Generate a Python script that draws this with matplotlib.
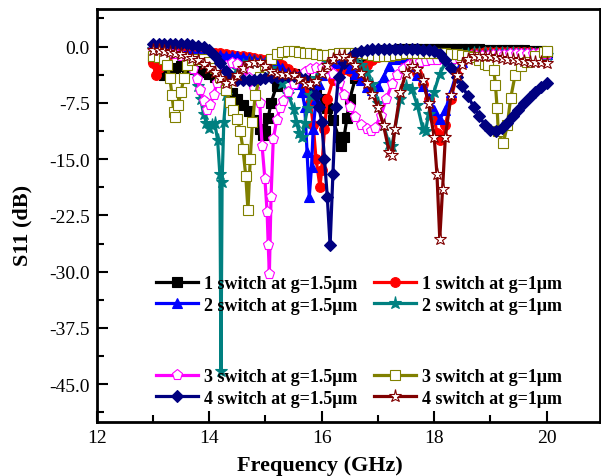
import matplotlib
matplotlib.use("Agg")
import matplotlib.pyplot as plt
from matplotlib.ticker import MultipleLocator, FormatStrFormatter

plt.rcParams['font.family'] = ['Liberation Serif', 'DejaVu Serif']
plt.rcParams['axes.unicode_minus'] = False

# ---- data (frequency GHz, S11 dB) ----
sw1_g15 = [(13.0,-1.5),(13.1,-3.0),(13.2,-3.8),(13.3,-3.4),(13.4,-2.8),(13.5,-2.6),(13.6,-2.8),(13.7,-3.0),
           (13.8,-3.2),(13.9,-3.4),(14.0,-3.6),(14.1,-4.0),(14.2,-4.6),(14.3,-5.4),(14.4,-6.2),(14.5,-7.0),
           (14.6,-7.8),(14.7,-8.6),(14.8,-9.8),(14.9,-11.0),(14.95,-11.8),(15.0,-11.2),(15.05,-9.5),(15.1,-7.5),
           (15.2,-5.2),(15.3,-4.0),(15.4,-3.6),(15.5,-3.6),(15.6,-3.8),(15.7,-4.2),(15.8,-5.0),(15.9,-6.0),
           (16.0,-7.0),(16.1,-8.2),(16.2,-9.8),(16.3,-12.0),(16.35,-13.2),(16.4,-12.0),(16.45,-9.5),(16.5,-7.0),
           (16.6,-4.2),(16.7,-2.5),(16.8,-1.5),(16.9,-0.9),(17.0,-0.6),(17.1,-0.5),(17.2,-0.4),(17.3,-0.4),
           (17.4,-0.3),(17.5,-0.3),(17.6,-0.3),(17.7,-0.3),(17.8,-0.3),(17.9,-0.3),(18.0,-0.3),(18.1,-0.3),
           (18.2,-0.3),(18.3,-0.3),(18.4,-0.3),(18.5,-0.3),(18.6,-0.3),(18.7,-0.3),(18.8,-0.3),(18.9,-0.4),
           (19.0,-0.4),(19.1,-0.4),(19.2,-0.4),(19.3,-0.5),(19.4,-0.5),(19.5,-0.5),(19.6,-0.5),(19.7,-0.6),
           (19.8,-0.6),(19.9,-0.6),(20.0,-0.7)]
sw1_g1 = [(13.0,-2.2),(13.05,-3.8),(13.1,-2.8),(13.2,-1.6),(13.3,-1.0),(13.4,-0.7),(13.5,-0.6),(13.6,-0.6),
          (13.7,-0.6),(13.8,-0.7),(13.9,-0.7),(14.0,-0.8),(14.1,-0.9),(14.2,-0.9),(14.3,-1.0),(14.4,-1.1),
          (14.5,-1.2),(14.6,-1.3),(14.7,-1.4),(14.8,-1.5),(14.9,-1.7),(15.0,-1.8),(15.1,-2.0),(15.2,-2.2),
          (15.3,-2.5),(15.4,-3.0),(15.5,-3.5),(15.6,-4.2),(15.7,-5.2),(15.75,-6.2),(15.8,-7.5),(15.85,-10.5),
          (15.9,-15.0),(15.97,-18.7),(16.0,-16.5),(16.05,-11.0),(16.1,-7.0),(16.2,-4.5),(16.3,-3.5),(16.4,-3.0),
          (16.5,-3.2),(16.6,-3.8),(16.7,-3.2),(16.8,-2.4),(16.9,-1.8),(17.0,-1.4),(17.1,-1.2),(17.2,-1.2),
          (17.3,-1.3),(17.4,-1.5),(17.5,-1.9),(17.6,-2.5),(17.7,-3.5),(17.8,-5.0),(17.9,-7.0),(18.0,-9.5),
          (18.05,-11.5),(18.1,-12.5),(18.15,-12.0),(18.2,-10.5),(18.3,-7.0),(18.4,-3.8),(18.5,-2.0),(18.6,-1.2),
          (18.7,-0.9),(18.8,-0.8),(18.9,-0.7),(19.0,-0.7),(19.1,-0.7),(19.2,-0.7),(19.3,-0.7),(19.4,-0.7),
          (19.5,-0.7),(19.6,-0.7),(19.7,-0.7),(19.8,-0.8),(19.9,-0.8),(20.0,-0.8)]
sw2_g15 = [(13.0,-0.5),(13.1,-0.6),(13.2,-0.6),(13.3,-0.7),(13.4,-0.7),(13.5,-0.8),(13.6,-0.8),(13.7,-0.9),
           (13.8,-0.9),(13.9,-1.0),(14.0,-1.0),(14.1,-1.1),(14.2,-1.1),(14.3,-1.2),(14.4,-1.2),(14.5,-1.3),
           (14.6,-1.4),(14.7,-1.5),(14.8,-1.6),(14.9,-1.8),(15.0,-2.0),(15.1,-2.2),(15.2,-2.5),(15.3,-2.9),
           (15.4,-3.4),(15.5,-4.0),(15.6,-5.0),(15.65,-6.0),(15.7,-8.0),(15.74,-14.0),(15.78,-20.0),(15.82,-16.0),
           (15.85,-11.0),(15.9,-7.0),(15.95,-5.0),(16.0,-3.8),(16.1,-2.8),(16.2,-2.2),(16.3,-2.0),(16.4,-2.2),
           (16.5,-2.8),(16.6,-3.6),(16.7,-4.5),(16.8,-5.4),(16.9,-5.8),(17.0,-5.3),(17.1,-4.0),(17.2,-2.6),
           (17.3,-1.7),(17.4,-1.4),(17.5,-1.8),(17.6,-2.6),(17.7,-3.8),(17.8,-5.2),(17.9,-6.8),(18.0,-8.4),
           (18.1,-9.6),(18.2,-8.5),(18.3,-6.0),(18.4,-3.5),(18.5,-2.0),(18.6,-1.4),(18.7,-1.1),(18.8,-1.0),
           (18.9,-0.9),(19.0,-0.9),(19.1,-0.9),(19.2,-0.9),(19.3,-0.9),(19.4,-0.9),(19.5,-0.9),(19.6,-0.9),
           (19.7,-1.0),(19.8,-1.0),(19.9,-1.0),(20.0,-1.0)]
sw2_g1 = [(13.0,-0.3),(13.1,-0.4),(13.2,-0.5),(13.3,-0.6),(13.4,-0.8),(13.5,-1.1),(13.6,-1.6),(13.7,-3.0),
          (13.8,-5.2),(13.85,-7.0),(13.9,-9.0),(13.95,-10.2),(14.0,-10.8),(14.05,-10.4),(14.1,-10.2),(14.15,-12.5),
          (14.19,-17.0),(14.21,-43.3),(14.23,-18.0),(14.26,-10.0),(14.3,-6.5),(14.4,-4.2),(14.5,-3.0),(14.6,-2.4),
          (14.7,-2.1),(14.8,-2.0),(14.9,-2.1),(15.0,-2.4),(15.1,-2.9),(15.2,-3.6),(15.3,-4.8),(15.4,-6.3),
          (15.5,-8.3),(15.55,-10.0),(15.6,-11.5),(15.65,-12.0),(15.7,-10.2),(15.75,-8.2),(15.8,-6.5),(15.9,-4.2),
          (16.0,-2.8),(16.1,-2.0),(16.2,-1.6),(16.3,-1.3),(16.4,-1.2),(16.5,-1.3),(16.6,-1.7),(16.7,-2.4),
          (16.8,-3.4),(16.9,-5.0),(17.0,-7.5),(17.1,-10.5),(17.2,-13.0),(17.25,-13.3),(17.3,-11.0),(17.4,-7.0),
          (17.5,-5.2),(17.6,-5.6),(17.7,-7.8),(17.8,-11.0),(17.85,-11.2),(17.9,-9.0),(18.0,-6.0),(18.1,-3.6),
          (18.2,-2.2),(18.3,-1.6),(18.4,-1.3),(18.5,-1.1),(18.6,-1.0),(18.7,-0.9),(18.8,-0.9),(18.9,-0.9),
          (19.0,-0.9),(19.1,-0.9),(19.2,-0.9),(19.3,-0.9),(19.4,-0.9),(19.5,-1.0),(19.6,-1.0),(19.7,-1.0),
          (19.8,-1.0),(19.9,-1.1),(20.0,-1.1)]
sw3_g15 = [(13.0,-0.5),(13.1,-0.6),(13.2,-0.7),(13.3,-0.8),(13.4,-1.0),(13.5,-1.3),(13.6,-1.8),(13.66,-2.2),
           (13.72,-3.0),(13.78,-4.3),(13.84,-5.8),(13.9,-7.2),(13.96,-8.4),(14.02,-7.8),(14.08,-6.4),(14.14,-4.8),
           (14.2,-3.6),(14.3,-2.6),(14.4,-2.2),(14.5,-2.3),(14.6,-3.0),(14.7,-4.2),(14.8,-5.6),(14.9,-7.5),
           (14.94,-13.2),(14.99,-17.6),(15.03,-22.0),(15.05,-26.5),(15.07,-30.3),(15.1,-20.0),(15.14,-12.3),(15.2,-9.8),
           (15.26,-8.2),(15.32,-7.2),(15.4,-6.0),(15.5,-5.0),(15.6,-4.0),(15.7,-3.4),(15.8,-3.0),(15.9,-2.8),
           (16.0,-2.8),(16.1,-3.0),(16.2,-3.6),(16.3,-4.8),(16.4,-6.4),(16.5,-8.0),(16.6,-9.4),(16.7,-10.4),
           (16.8,-11.0),(16.87,-11.3),(16.95,-10.8),(17.05,-9.2),(17.15,-7.0),(17.25,-5.0),(17.34,-3.8),(17.45,-3.0),
           (17.55,-2.5),(17.65,-2.2),(17.75,-2.0),(17.85,-1.9),(17.95,-1.8),(18.05,-1.8),(18.15,-1.7),(18.25,-1.7),
           (18.35,-1.6),(18.45,-1.5),(18.55,-1.4),(18.65,-1.3),(18.75,-1.3),(18.85,-1.2),(18.95,-1.2),(19.05,-1.1),
           (19.15,-1.1),(19.25,-1.1),(19.35,-1.0),(19.45,-1.0),(19.55,-1.0),(19.65,-1.0),(19.75,-1.0),(19.85,-1.0),
           (19.95,-1.0),(20.0,-1.0)]
sw3_g1 = [(13.0,-1.3),(13.1,-1.4),(13.2,-1.6),(13.25,-2.4),(13.3,-4.2),(13.34,-6.5),(13.37,-8.7),(13.4,-9.4),
          (13.45,-7.8),(13.5,-6.0),(13.55,-4.2),(13.6,-2.5),(13.7,-1.8),(13.8,-1.6),(13.9,-1.7),(14.0,-2.0),
          (14.1,-2.8),(14.2,-4.0),(14.3,-5.8),(14.37,-7.4),(14.43,-8.4),(14.5,-9.6),(14.55,-11.2),(14.6,-13.6),
          (14.65,-17.2),(14.69,-21.8),(14.73,-15.0),(14.77,-10.0),(14.82,-6.5),(14.9,-4.0),(15.0,-2.5),(15.1,-1.6),
          (15.2,-1.0),(15.3,-0.7),(15.4,-0.6),(15.5,-0.6),(15.6,-0.7),(15.7,-0.8),(15.8,-0.9),(15.9,-1.0),
          (16.0,-1.1),(16.1,-1.1),(16.2,-1.0),(16.3,-0.9),(16.4,-0.8),(16.5,-0.8),(16.6,-0.8),(16.7,-0.9),
          (16.8,-1.0),(16.9,-1.1),(17.0,-1.2),(17.1,-1.2),(17.2,-1.2),(17.3,-1.1),(17.4,-1.0),(17.5,-0.9),
          (17.6,-0.8),(17.7,-0.8),(17.8,-0.8),(17.9,-0.8),(18.0,-0.8),(18.1,-0.9),(18.2,-0.9),(18.3,-1.0),
          (18.4,-1.0),(18.5,-1.1),(18.6,-1.2),(18.7,-1.4),(18.8,-1.8),(18.9,-2.3),(18.95,-2.5),(19.06,-3.1),
          (19.09,-5.1),(19.12,-8.2),(19.14,-11.3),(19.23,-12.9),(19.3,-10.5),(19.36,-6.9),(19.44,-3.8),(19.55,-2.6),
          (19.66,-2.0),(19.8,-1.3),(19.95,-0.7),(20.0,-0.6)]
sw4_g15 = [(13.0,0.3),(13.1,0.4),(13.2,0.4),(13.3,0.4),(13.4,0.4),(13.5,0.4),(13.6,0.3),(13.7,0.2),
           (13.8,0.1),(13.9,-0.1),(14.0,-0.5),(14.1,-1.2),(14.2,-2.2),(14.3,-3.2),(14.4,-4.0),(14.5,-4.4),
           (14.6,-4.5),(14.7,-4.5),(14.8,-4.4),(14.9,-4.3),(15.0,-4.2),(15.1,-4.1),(15.2,-4.0),(15.3,-3.9),
           (15.4,-3.9),(15.5,-3.9),(15.6,-4.0),(15.7,-4.3),(15.8,-5.0),(15.9,-6.5),(15.95,-8.0),(16.0,-10.0),
           (16.05,-15.0),(16.1,-20.0),(16.15,-26.5),(16.2,-17.0),(16.25,-8.0),(16.3,-4.0),(16.4,-2.2),(16.5,-1.4),
           (16.6,-0.9),(16.7,-0.6),(16.8,-0.4),(16.9,-0.3),(17.0,-0.3),(17.1,-0.3),(17.2,-0.3),(17.3,-0.3),
           (17.4,-0.3),(17.5,-0.3),(17.6,-0.3),(17.7,-0.3),(17.8,-0.4),(17.9,-0.5),(18.0,-0.6),(18.1,-1.0),
           (18.2,-1.8),(18.3,-2.8),(18.4,-4.0),(18.5,-5.3),(18.6,-6.6),(18.7,-8.0),(18.8,-9.3),(18.9,-10.4),
           (19.0,-11.1),(19.1,-11.3),(19.2,-10.9),(19.3,-10.2),(19.4,-9.3),(19.5,-8.4),(19.6,-7.5),(19.7,-6.7),
           (19.8,-6.0),(19.9,-5.4),(20.0,-4.9)]
sw4_g1 = [(13.0,-0.4),(13.1,-0.5),(13.2,-0.6),(13.3,-0.7),(13.4,-0.8),(13.5,-1.0),(13.6,-1.2),(13.7,-1.5),
          (13.8,-1.8),(13.9,-2.3),(14.0,-2.8),(14.1,-3.4),(14.2,-4.2),(14.3,-4.8),(14.4,-4.6),(14.5,-3.8),
          (14.6,-2.8),(14.7,-2.2),(14.8,-2.0),(14.9,-2.1),(15.0,-2.6),(15.1,-3.2),(15.2,-3.5),(15.3,-3.6),
          (15.4,-3.6),(15.5,-3.8),(15.6,-4.3),(15.7,-4.8),(15.8,-5.0),(15.9,-4.6),(16.0,-3.5),(16.1,-2.4),
          (16.2,-1.6),(16.3,-1.2),(16.4,-1.2),(16.5,-1.6),(16.6,-2.4),(16.7,-3.5),(16.8,-4.8),(16.9,-6.3),
          (17.0,-8.0),(17.1,-10.5),(17.2,-14.0),(17.25,-14.5),(17.3,-11.0),(17.4,-6.0),(17.5,-3.5),(17.6,-2.6),
          (17.7,-3.0),(17.8,-4.5),(17.9,-7.5),(18.0,-12.0),(18.05,-17.0),(18.1,-25.6),(18.15,-19.0),(18.2,-12.0),
          (18.3,-6.5),(18.4,-3.8),(18.5,-2.3),(18.6,-1.6),(18.7,-1.3),(18.8,-1.2),(18.9,-1.2),(19.0,-1.3),
          (19.1,-1.4),(19.2,-1.5),(19.3,-1.6),(19.4,-1.7),(19.5,-1.8),(19.6,-1.9),(19.7,-2.0),(19.8,-2.1),
          (19.9,-2.1),(20.0,-2.2)]

labels = ["1 switch at g=1.5μm", "1 switch at g=1μm",
          "2 switch at g=1.5μm", "2 switch at g=1μm",
          "3 switch at g=1.5μm", "3 switch at g=1μm",
          "4 switch at g=1.5μm", "4 switch at g=1μm"]
series = [sw1_g15, sw1_g1, sw2_g15, sw2_g1, sw3_g15, sw3_g1, sw4_g15, sw4_g1]

styles = [
    dict(color='black', marker='s', mfc='black', mec='black', ms=6.5),
    dict(color='red', marker='o', mfc='red', mec='red', ms=7),
    dict(color='blue', marker='^', mfc='blue', mec='blue', ms=7.5),
    dict(color='#008080', marker='*', mfc='#008080', mec='#008080', ms=9.5),
    dict(color='#FF00FF', marker='p', mfc='white', mec='#FF00FF', ms=8),
    dict(color='#808000', marker='s', mfc='white', mec='#808000', ms=7),
    dict(color='#000080', marker='D', mfc='#000080', mec='#000080', ms=6.5),
    dict(color='#800000', marker='*', mfc='white', mec='#800000', ms=9.5),
]

fig = plt.figure(figsize=(6.01, 4.77), dpi=100)
ax = fig.add_axes([0.1609, 0.1138, 0.8375, 0.8652])

handles = []
for data, lab, st in zip(series, labels, styles):
    f = [p[0] for p in data]
    d = [p[1] for p in data]
    h, = ax.plot(f, d, lw=2.3, mew=0.8, label=lab, **st)
    handles.append(h)

ax.set_xlim(12, 20.95)
ax.set_ylim(-50, 5)
ax.xaxis.set_major_locator(MultipleLocator(2))
ax.xaxis.set_minor_locator(MultipleLocator(1))
ax.yaxis.set_major_locator(MultipleLocator(7.5))
ax.yaxis.set_minor_locator(MultipleLocator(3.75))
ax.yaxis.set_major_formatter(FormatStrFormatter('%.1f'))
ax.tick_params(which='both', direction='in', top=False, right=False, labelsize=14, width=1.5)
ax.tick_params(which='major', length=8, pad=5)
ax.tick_params(which='minor', length=5)
for sp in ax.spines.values():
    sp.set_linewidth(2)

fig.text(320/601, 1-466/477, "Frequency (GHz)", ha='center', va='center', fontsize=16, fontweight='bold')
fig.text(22/601, 1-225/477, "S11 (dB)", ha='center', va='center', rotation=90, fontsize=16, fontweight='bold')

leg_kw = dict(ncol=2, frameon=False, prop=dict(size=13, weight='bold'), handlelength=2.35,
              handletextpad=0.28, columnspacing=0.95, labelspacing=0.25, borderaxespad=0, borderpad=0)
x0 = (156 - 96.7) / 503
leg1 = ax.legend([handles[0], handles[2], handles[1], handles[3]],
                 [labels[0], labels[2], labels[1], labels[3]],
                 loc='upper left', bbox_to_anchor=(x0, 1-(276-10)/412.7), **leg_kw)
ax.add_artist(leg1)
leg2 = ax.legend([handles[4], handles[6], handles[5], handles[7]],
                 [labels[4], labels[6], labels[5], labels[7]],
                 loc='upper left', bbox_to_anchor=(x0, 1-(369-10)/412.7), **leg_kw)

fig.savefig("out.png", dpi=100)
